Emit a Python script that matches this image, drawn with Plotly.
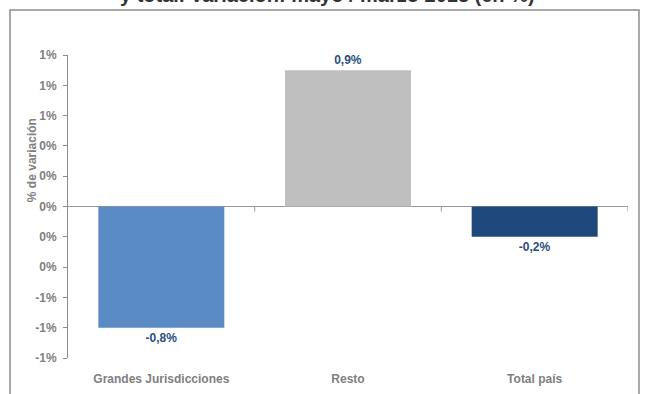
import plotly.graph_objects as go

# Variación mayo / marzo 2013, en %
categorias = ["Grandes Jurisdicciones", "Resto", "Total país"]
variacion = [-0.8, 0.9, -0.2]
colores = ["#5B8BC5", "#BFBFBF", "#1F497D"]

y_ticks = [-1.0, -0.8, -0.6, -0.4, -0.2, 0.0, 0.2, 0.4, 0.6, 0.8, 1.0]
y_tick_labels = ["-1%", "-1%", "-1%", "0%", "0%", "0%", "0%", "0%", "1%", "1%", "1%"]

titulo = "y total. Variación: mayo / marzo 2013 (en %)"
eje_y_titulo = "% de variación"

FONT = "Liberation Sans, Arial, sans-serif"
GRAY = "#808080"
LABEL_BLUE = "#2A4F80"

etiquetas = [f"<b>{v:.1f}%</b>".replace(".", ",") for v in variacion]

fig = go.Figure(
    go.Bar(
        x=categorias,
        y=variacion,
        marker=dict(color=colores, line=dict(width=0)),
        text=etiquetas,
        textposition="outside",
        textfont=dict(family=FONT, size=12, color=LABEL_BLUE),
        cliponaxis=False,
        width=0.675,
    )
)

# small tick marks on the zero line at the category boundaries
n = len(categorias)
for i in range(n):
    fig.add_shape(
        type="line", xref="x", yref="y",
        x0=i + 0.5, x1=i + 0.5, y0=0, y1=-5,
        ysizemode="pixel", yanchor=0,
        line=dict(color="#999999", width=1),
    )

# outer frame around the chart
fig.add_shape(
    type="rect", xref="paper", yref="paper",
    x0=-0.1036, x1=1.0196, y0=-0.14, y1=1.1485,
    line=dict(color="#8C8C8C", width=1.5), fillcolor="rgba(0,0,0,0)",
    layer="below",
)

# chart title (its upper part runs off the top of the page)
fig.add_annotation(
    text=f"<b>{titulo}</b>", xref="paper", yref="paper",
    x=0.4625, y=1.1485, yshift=2, xanchor="center", yanchor="bottom",
    showarrow=False, font=dict(family=FONT, size=20, color="#333333"),
)

# y axis title
fig.add_annotation(
    text=f"<b>{eje_y_titulo}</b>", xref="paper", yref="paper",
    x=-0.0643, y=0.653, xanchor="center", yanchor="middle",
    textangle=-90, showarrow=False,
    font=dict(family=FONT, size=12, color=GRAY),
)

fig.update_layout(
    width=646, height=394,
    margin=dict(l=68, r=18, t=55, b=36, autoexpand=False),
    paper_bgcolor="white", plot_bgcolor="white",
    showlegend=False,
    font=dict(family=FONT, size=12, color=GRAY),
    xaxis=dict(
        range=[-0.5, n - 0.5],
        automargin=False,
        showline=False, showgrid=False, zeroline=False,
        ticks="outside", ticklen=10, tickcolor="rgba(0,0,0,0)",
        tickfont=dict(family=FONT, size=12, color=GRAY, weight="bold"),
    ),
    yaxis=dict(
        range=[-1.0, 1.0],
        automargin=False,
        tickvals=y_ticks, ticktext=y_tick_labels,
        showline=True, linecolor="#8C8C8C", linewidth=1,
        ticks="outside", ticklen=4, tickcolor="#8C8C8C",
        showgrid=False,
        zeroline=True, zerolinecolor="#999999", zerolinewidth=1,
        tickfont=dict(family=FONT, size=12, color=GRAY, weight="bold"),
        ticklabelstandoff=4,
    ),
)

fig.write_html("out.html")
